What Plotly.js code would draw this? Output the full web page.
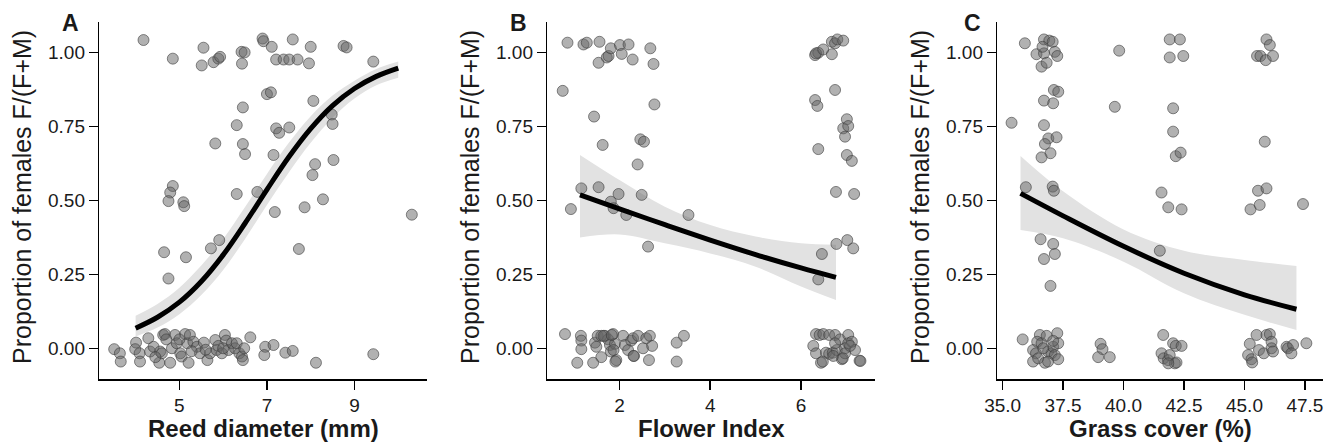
<!DOCTYPE html>
<html>
<head>
<meta charset="utf-8">
<script src="https://cdn.plot.ly/plotly-3.0.1.min.js"></script>
<style>html,body{margin:0;padding:0;background:#fff;}#chart{width:1338px;height:447px;}</style>
</head>
<body>
<div id="chart"></div>
<script>
// ---------- Data ----------
const yTickVals = [0, 0.25, 0.5, 0.75, 1];
const yTickLabels = ['0.00', '0.25', '0.50', '0.75', '1.00'];

// Panel A: Reed diameter
const reedX = [4.18,4.85,5.55,5.51,5.78,5.89,5.93,6.42,6.49,6.43,6.90,6.92,7.11,7.59,8.00,7.21,7.38,7.51,7.70,7.96,8.75,8.82,9.43,
  7.00,7.09,6.45,6.31,6.45,6.50,5.82,7.21,7.28,7.51,7.15,8.06,8.48,8.50,8.10,8.52,8.04,
  4.85,4.79,4.75,5.09,5.11,6.31,6.78,7.18,7.86,8.28,10.31,5.91,5.72,4.65,5.15,7.73,4.75,
  3.51,3.64,3.66,4.01,3.99,4.09,4.10,4.29,4.33,4.41,4.56,4.54,4.63,4.67,4.60,4.79,4.83,4.90,4.94,5.02,5.05,5.13,5.18,5.21,5.24,5.32,5.40,5.47,5.56,5.64,5.70,5.82,5.85,5.89,5.97,6.04,6.07,6.12,6.20,6.27,6.31,6.37,6.43,6.45,6.48,6.62,6.96,6.94,7.15,7.42,7.59,8.12,9.43,
  4.70,5.00,5.60,6.00,4.45,5.28];
const reedY = [1.043,0.980,1.017,0.957,0.968,0.980,0.986,1.003,1.001,0.963,1.048,1.039,1.020,1.045,1.020,0.977,0.977,0.977,0.977,0.964,1.023,1.018,0.970,
  0.860,0.866,0.815,0.755,0.691,0.657,0.693,0.744,0.729,0.747,0.654,0.837,0.791,0.759,0.623,0.637,0.586,
  0.549,0.527,0.498,0.494,0.481,0.522,0.529,0.461,0.477,0.504,0.452,0.366,0.338,0.325,0.308,0.336,0.236,
  -0.003,-0.017,-0.045,0.019,-0.003,-0.017,-0.045,0.034,-0.011,0.005,-0.011,-0.049,0.045,0.048,-0.017,-0.049,0.000,0.045,0.017,-0.017,-0.028,0.048,0.017,-0.049,0.045,0.022,0.005,-0.017,0.019,-0.040,-0.017,0.028,-0.006,0.008,-0.017,0.045,0.026,-0.006,0.017,0.000,0.017,-0.017,-0.028,-0.040,0.000,0.037,0.005,-0.023,0.011,-0.015,-0.009,-0.049,-0.020,
  0.030,0.030,-0.005,0.000,-0.030,-0.010];
const reedFitX = [4.0,4.5,5.0,5.5,6.0,6.5,7.0,7.5,8.0,8.5,9.0,9.5,10.0];
const reedFit  = [0.068,0.105,0.156,0.226,0.316,0.423,0.537,0.647,0.743,0.821,0.879,0.920,0.948];
const reedLo   = [0.040,0.070,0.115,0.180,0.265,0.370,0.485,0.595,0.695,0.780,0.845,0.890,0.915];
const reedHi   = [0.110,0.150,0.205,0.280,0.370,0.478,0.590,0.695,0.785,0.855,0.905,0.945,0.970];

// Panel B: Flower Index
const flowerX = [0.855,1.207,1.28,1.56,1.54,1.72,1.76,1.81,2.01,2.05,2.20,2.29,2.68,2.75,0.75,2.77,1.44,1.63,2.46,2.54,2.40,1.16,1.54,1.98,0.93,1.81,1.87,2.15,2.49,2.63,3.52,
  6.31,6.38,6.33,6.49,6.68,6.68,6.75,6.80,6.93,6.31,6.36,6.75,7.01,6.93,7.04,6.97,7.01,7.12,6.38,6.77,7.17,6.78,7.02,7.15,6.46,6.38,
  0.80,1.15,1.16,1.16,1.07,1.42,1.46,1.52,1.49,1.60,1.68,1.75,1.79,1.81,1.86,1.93,1.91,1.90,2.08,2.12,2.19,2.26,2.30,2.32,2.41,2.52,2.59,2.67,2.72,2.65,3.26,3.42,3.26,1.60,2.31,1.65,1.83,1.87,
  6.33,6.41,6.49,6.62,6.75,6.86,7.04,6.27,6.33,6.44,6.55,6.62,6.70,6.79,6.75,6.90,6.97,7.04,7.12,7.19,7.29,6.97,7.08,7.31,6.48,6.71,6.92];
const flowerY = [1.034,1.028,1.034,1.037,0.966,0.984,0.989,1.015,1.026,0.996,1.028,0.977,1.015,0.962,0.871,0.825,0.784,0.688,0.707,0.699,0.622,0.541,0.545,0.522,0.471,0.496,0.474,0.451,0.519,0.344,0.451,
  0.992,1.000,0.998,1.011,0.995,1.037,1.032,1.045,1.041,0.840,0.820,0.874,0.775,0.744,0.752,0.716,0.654,0.634,0.674,0.529,0.522,0.353,0.366,0.338,0.319,0.233,
  0.048,0.042,0.026,-0.003,-0.049,-0.049,0.019,0.042,0.005,-0.030,0.042,0.030,0.011,-0.011,0.048,-0.040,-0.045,0.015,0.042,0.011,-0.006,0.026,0.034,-0.026,0.042,0.000,0.034,0.042,0.008,-0.040,0.019,0.042,-0.045,0.042,-0.026,0.042,0.045,-0.006,
  0.048,0.045,0.048,0.045,0.045,0.030,0.045,0.008,-0.017,-0.049,-0.015,-0.019,-0.015,-0.006,0.017,-0.037,0.000,0.017,0.022,-0.006,-0.042,-0.017,0.008,-0.043,-0.045,-0.026,-0.034];
const flowerFitX = [1.13,2,3,4,5,6,6.77];
const flowerFit  = [0.519,0.472,0.418,0.366,0.317,0.272,0.240];
const flowerLo   = [0.375,0.385,0.355,0.321,0.276,0.209,0.163];
const flowerHi   = [0.654,0.569,0.479,0.417,0.378,0.355,0.350];

// Panel C: Grass cover
const grassX = [35.92,36.40,36.61,36.71,36.71,36.82,36.93,37.07,37.16,37.26,36.65,35.37,36.71,37.09,37.12,37.30,36.71,36.89,37.23,36.75,36.98,36.61,35.96,37.07,37.12,36.57,37.09,37.16,36.71,36.98,
  39.82,39.64,41.50,41.91,42.33,41.91,42.47,42.05,42.05,42.16,42.36,41.57,41.85,42.40,
  45.91,46.05,45.52,45.66,45.88,46.18,45.84,45.56,45.91,45.25,45.63,47.42,
  35.83,36.54,36.43,36.61,36.26,36.38,36.26,36.47,36.82,36.88,37.02,37.09,37.16,37.26,37.30,36.75,36.88,37.30,36.68,37.09,
  39.05,39.13,38.95,39.43,41.64,41.57,41.66,42.05,41.84,42.12,42.16,42.40,41.91,42.19,41.85,
  45.22,45.15,45.29,45.50,45.60,45.80,45.91,46.05,46.12,46.12,46.18,46.74,46.80,47.01,46.94,47.56,45.32];
const grassY = [1.032,0.995,0.953,0.998,1.045,0.966,1.041,1.037,1.003,0.989,1.020,0.763,0.838,0.829,0.874,0.868,0.755,0.710,0.714,0.691,0.660,0.646,0.545,0.547,0.533,0.369,0.353,0.319,0.302,0.211,
  1.007,0.817,0.330,1.045,1.045,0.984,0.989,0.812,0.733,0.650,0.662,0.527,0.477,0.470,
  1.045,1.026,0.989,0.989,0.975,0.989,0.699,0.533,0.541,0.470,0.485,0.488,
  0.030,0.045,0.022,0.017,-0.006,-0.017,-0.045,-0.034,0.042,-0.011,-0.017,0.005,-0.023,0.051,0.017,-0.049,-0.045,-0.037,0.000,0.025,
  0.015,-0.003,-0.030,-0.030,0.045,-0.017,-0.034,0.017,-0.040,-0.051,0.008,0.008,-0.023,-0.048,-0.051,
  0.015,-0.023,-0.037,0.045,-0.006,-0.017,0.045,0.048,0.022,0.000,-0.011,0.005,0.000,0.011,-0.017,0.017,-0.048];
const grassFitX = [35.74,37.5,40,42.5,45,47.15];
const grassFit  = [0.524,0.448,0.345,0.254,0.181,0.132];
const grassLo   = [0.400,0.372,0.293,0.186,0.113,0.062];
const grassHi   = [0.651,0.531,0.402,0.330,0.299,0.278];

const xTickA = [5,7,9];
const xTickB = [2,4,6];
const xTickC = [35,37.5,40,42.5,45,47.5];
const xTickLabelsC = ['35.0','37.5','40.0','42.5','45.0','47.5'];

const panelLetters = ['A','B','C'];
const xTitles = ['Reed diameter (mm)','Flower Index','Grass cover (%)'];
const yTitle = 'Proportion of females F/(F+M)';

// ---------- Build ----------
const W = 1338, H = 447;
const FONT = 'Liberation Sans, Arial, Helvetica, sans-serif';
const panels = [
  {px:[reedX,reedY], fit:[reedFitX,reedFit,reedLo,reedHi], xl:99.3, xr:426.7, range:[3.17,10.65], tv:xTickA, tt:xTickA.map(String), yt:22, lx:70},
  {px:[flowerX,flowerY], fit:[flowerFitX,flowerFit,flowerLo,flowerHi], xl:547.3, xr:875, range:[0.41,7.63], tv:xTickB, tt:xTickB.map(String), yt:470, lx:518},
  {px:[grassX,grassY], fit:[grassFitX,grassFit,grassLo,grassHi], xl:997.3, xr:1323.3, range:[34.78,48.26], tv:xTickC, tt:xTickLabelsC, yt:920, lx:972}
];
const plotTop = 22, plotBot = 379;
const traces = [];
const layout = {
  width: W, height: H, margin:{l:0,r:0,t:0,b:0},
  paper_bgcolor:'#ffffff', plot_bgcolor:'#ffffff', showlegend:false,
  font:{family:FONT, color:'#1a1a1a'}, annotations:[]
};
panels.forEach((p,i) => {
  const n = i===0 ? '' : String(i+1);
  const xa = 'x'+n, ya = 'y'+n;
  traces.push({x:p.fit[0], y:p.fit[2], xaxis:xa, yaxis:ya, mode:'lines', line:{width:0, shape:'spline'}, hoverinfo:'skip'});
  traces.push({x:p.fit[0], y:p.fit[3], xaxis:xa, yaxis:ya, mode:'lines', line:{width:0, shape:'spline'}, fill:'tonexty', fillcolor:'#e2e2e2', hoverinfo:'skip'});
  traces.push({x:p.px[0], y:p.px[1], xaxis:xa, yaxis:ya, mode:'markers', type:'scatter',
    marker:{size:11, color:'rgba(100,100,100,0.5)', line:{width:1, color:'rgba(60,60,60,0.6)'}}});
  traces.push({x:p.fit[0], y:p.fit[1], xaxis:xa, yaxis:ya, mode:'lines', line:{width:5, color:'#000', shape:'spline'}});
  const axCommon = {showgrid:false, zeroline:false, showline:true, linecolor:'#000', linewidth:1.5,
    ticks:'outside', ticklen:9, tickwidth:1.5, tickcolor:'#000', tickfont:{size:19, family:FONT, color:'#1a1a1a'}, automargin:false, fixedrange:true};
  layout['xaxis'+n] = Object.assign({}, axCommon, {domain:[p.xl/W, p.xr/W], range:p.range, tickmode:'array', tickvals:p.tv, ticktext:p.tt, anchor:ya});
  layout['yaxis'+n] = Object.assign({}, axCommon, {domain:[1-plotBot/H, 1-plotTop/H], range:[-0.104,1.104], tickmode:'array', tickvals:yTickVals, ticktext:yTickLabels, anchor:xa});
  layout.annotations.push({xref:'paper', yref:'paper', x:(p.xl+p.xr)/2/W, y:1-428/H, text:xTitles[i], showarrow:false,
    font:{size:24, family:FONT, color:'#1a1a1a', weight:'bold'}, xanchor:'center', yanchor:'middle'});
  layout.annotations.push({xref:'paper', yref:'paper', x:p.yt/W, y:1-197/H, text:yTitle, showarrow:false, textangle:-90,
    font:{size:25, family:FONT, color:'#1a1a1a'}, xanchor:'center', yanchor:'middle'});
  layout.annotations.push({xref:'paper', yref:'paper', x:p.lx/W, y:1-23/H, text:'<b>'+panelLetters[i]+'</b>', showarrow:false,
    font:{size:23, family:FONT, color:'#1a1a1a'}, xanchor:'center', yanchor:'middle'});
});
Plotly.newPlot('chart', traces, layout, {displayModeBar:false, staticPlot:true});
</script>
</body>
</html>
